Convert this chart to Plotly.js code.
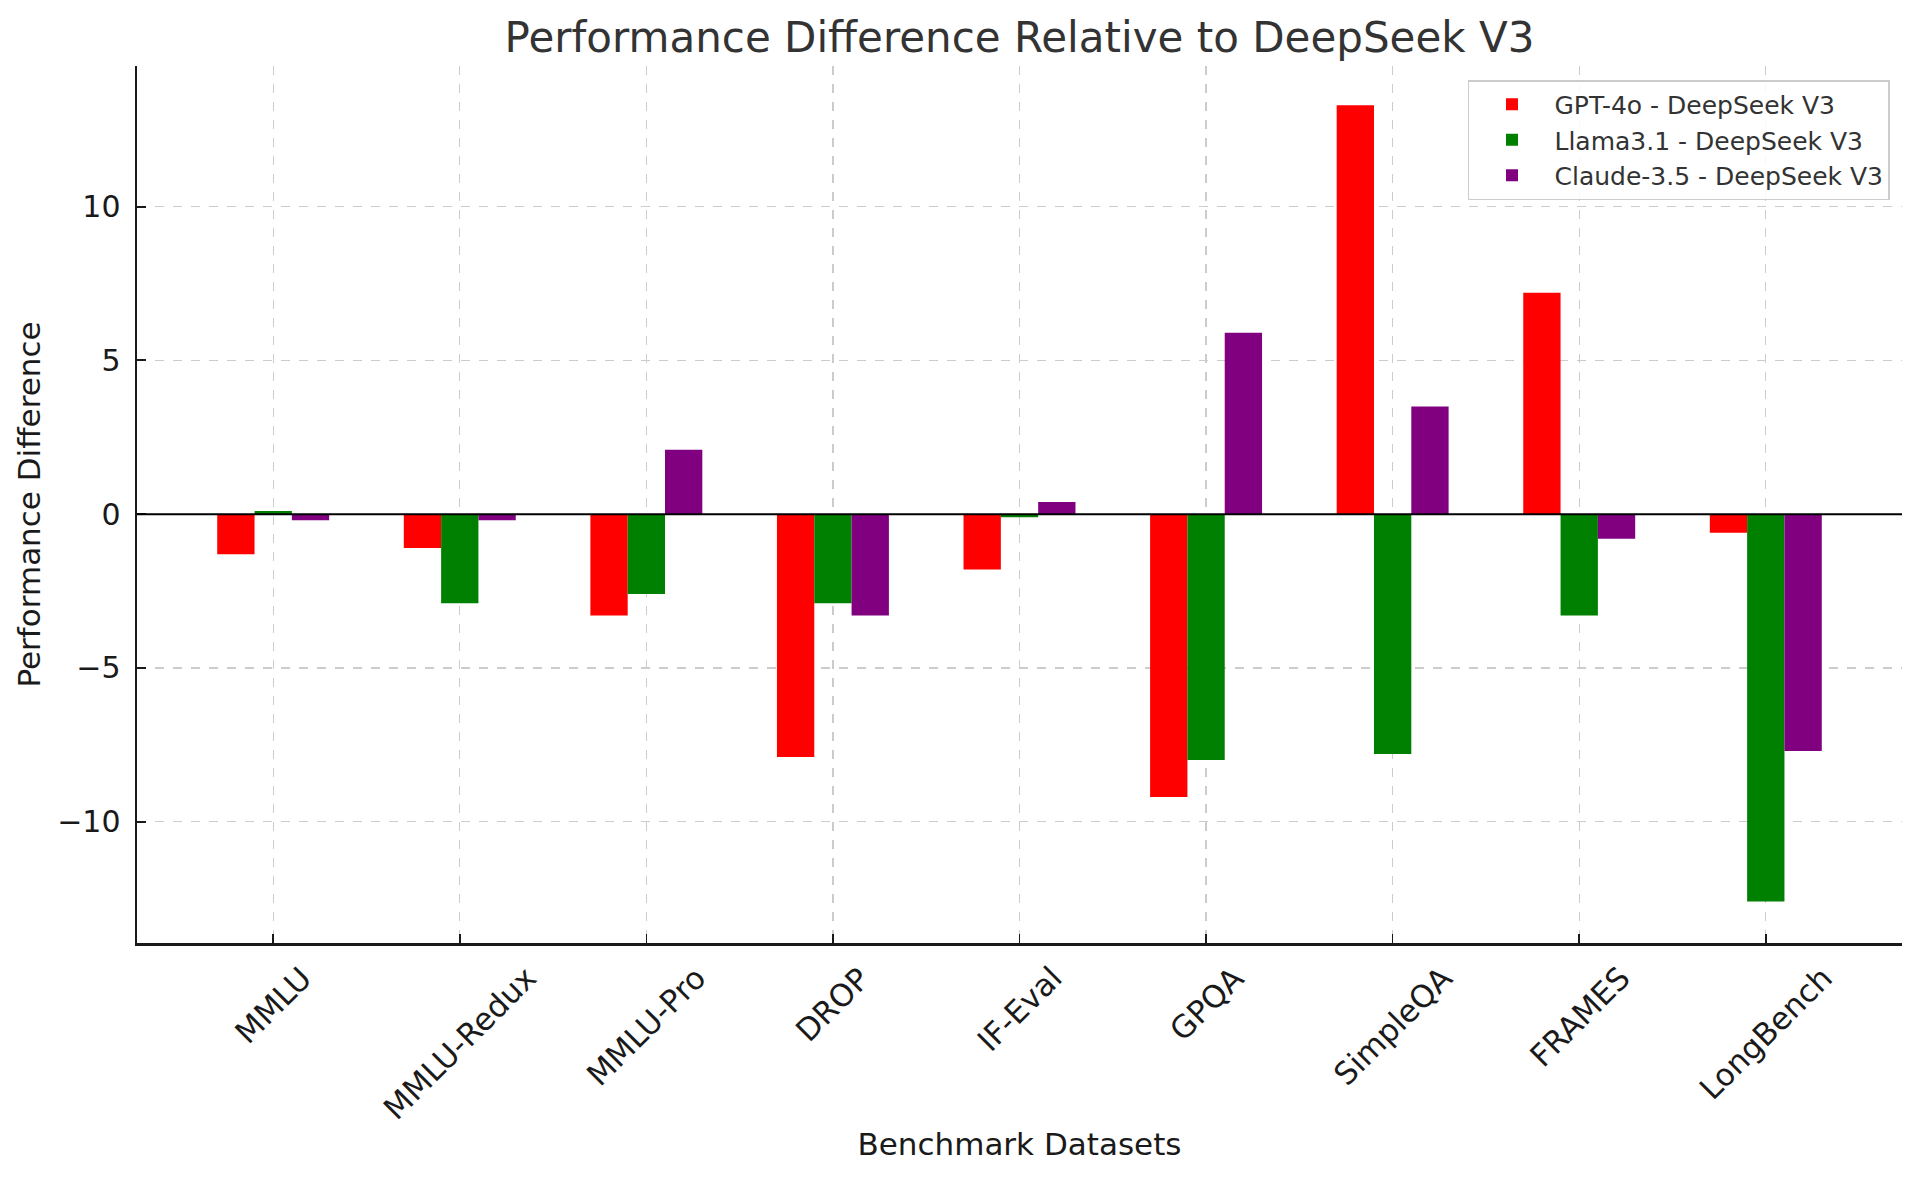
<!DOCTYPE html>
<html>
<head>
<meta charset="utf-8">
<script src="https://cdn.plot.ly/plotly-3.0.1.min.js"></script>
<style>html,body{margin:0;padding:0;background:#fff;}#chart{width:1920px;height:1179px;}</style>
</head>
<body>
<div id="chart"></div>
<script>
const categories = ["MMLU", "MMLU-Redux", "MMLU-Pro", "DROP", "IF-Eval", "GPQA", "SimpleQA", "FRAMES", "LongBench"];
const gpt4oDiff  = [-1.3, -1.1, -3.3, -7.9, -1.8, -9.2, 13.3, 7.2, -0.6];
const llamaDiff  = [0.1, -2.9, -2.6, -2.9, -0.1, -8.0, -7.8, -3.3, -12.6];
const claudeDiff = [-0.2, -0.2, 2.1, -3.3, 0.4, 5.9, 3.5, -0.8, -7.7];
const seriesNames = ["GPT-4o - DeepSeek V3", "Llama3.1 - DeepSeek V3", "Claude-3.5 - DeepSeek V3"];
const seriesColors = ["#ff0000", "#008000", "#800080"];
const yTickVals = [-10, -5, 0, 5, 10];
const yTickText = ["\u221210", "\u22125", "0", "5", "10"];

const FONT = "DejaVu Sans, sans-serif";
const seriesValues = [gpt4oDiff, llamaDiff, claudeDiff];
const traces = seriesValues.map((vals, i) => ({
  type: "bar",
  x: categories,
  y: vals,
  name: seriesNames[i],
  marker: {color: seriesColors[i], line: {width: 0}}
}));

const annotations = categories.map(c => ({
  x: c, xref: "x", y: 0, yref: "paper",
  text: c, showarrow: false, textangle: -45,
  xanchor: "center", yanchor: "top", yshift: -14,
  font: {family: FONT, size: 31, color: "#1a1a1a"}
}));

const layout = {
  width: 1920, height: 1179,
  paper_bgcolor: "#ffffff", plot_bgcolor: "#ffffff",
  margin: {l: 137, r: 18, t: 66, b: 236},
  font: {family: FONT, color: "#1a1a1a"},
  title: {text: "Performance Difference Relative to DeepSeek V3",
          font: {family: FONT, size: 42, color: "#333333"},
          x: 0.5, xref: "paper", xanchor: "center", y: 0.968, yref: "container", yanchor: "middle"},
  barmode: "group", bargap: 0.4, bargroupgap: 0,
  showlegend: true,
  legend: {x: 0.9932, xanchor: "right", y: 0.984, yanchor: "top",
           bgcolor: "rgba(255,255,255,0.85)", bordercolor: "#cccccc", borderwidth: 1.5,
           itemwidth: 75,
           font: {family: FONT, size: 25, color: "#333333"}},
  xaxis: {type: "category", range: [-0.73, 8.73],
          showline: true, linecolor: "#1a1a1a", linewidth: 2.5, mirror: false,
          ticks: "inside", ticklen: 9, tickwidth: 1.5, tickcolor: "#1a1a1a",
          showticklabels: false,
          showgrid: true, gridcolor: "#cccccc", griddash: "dash", gridwidth: 1.3,
          zeroline: false,
          title: {text: "Benchmark Datasets", standoff: 189, font: {family: FONT, size: 31, color: "#1a1a1a"}}},
  yaxis: {range: [-13.95, 14.58], tickvals: yTickVals, ticktext: yTickText,
          showline: true, linecolor: "#1a1a1a", linewidth: 2.5, mirror: false,
          ticks: "inside", ticklen: 9, tickwidth: 2, tickcolor: "#1a1a1a",
          ticklabelstandoff: 8,
          tickfont: {family: FONT, size: 30, color: "#1a1a1a"},
          showgrid: true, gridcolor: "#cccccc", griddash: "dash", gridwidth: 1.3,
          zeroline: false,
          title: {text: "Performance Difference", standoff: 8, font: {family: FONT, size: 31, color: "#1a1a1a"}}},
  shapes: [{type: "line", xref: "paper", x0: 0, x1: 1, yref: "y", y0: 0, y1: 0,
            line: {color: "#000000", width: 2}, layer: "above"}],
  annotations: annotations
};

Plotly.newPlot("chart", traces, layout, {displayModeBar: false, staticPlot: true});
</script>
</body>
</html>
